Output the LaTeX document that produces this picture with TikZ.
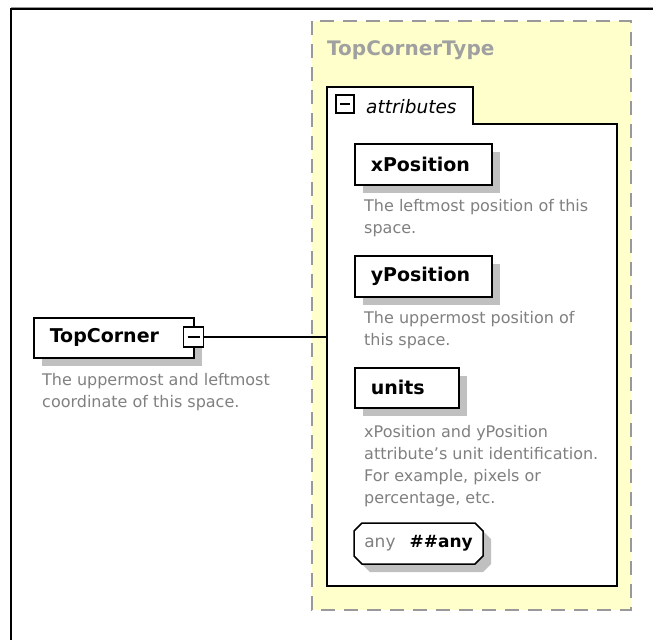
\documentclass[tikz,border=0pt]{standalone}
\usepackage{fontspec}
\setmainfont{DejaVu Sans}
\usetikzlibrary{positioning, shapes.misc, shadows}
\definecolor{SchemaYellow}{HTML}{FFFFCC}
\definecolor{DashGrey}    {HTML}{999999}
\definecolor{ShadowGrey}  {HTML}{C0C0C0}
\definecolor{NoteGrey}    {HTML}{808080}
\definecolor{TitleGrey}   {HTML}{A0A0A0}
\tikzset{
  box shadow/.style={general shadow={shadow xshift=8pt, shadow yshift=-8pt, fill=ShadowGrey}},
  collapse/.style={draw, line width=1.2pt, fill=white, minimum size=#1, inner sep=0pt,
                   path picture={\draw[line width=1.2pt]
                     ([xshift=4pt]path picture bounding box.west) --
                     ([xshift=-4pt]path picture bounding box.east);}},
}

\begin{document}
\begin{tikzpicture}[x=1pt, y=-1pt,
    elem/.style={draw=black, line width=1.5pt, fill=white, box shadow,
                 font=\fontsize{19}{22}\selectfont\bfseries, anchor=north west,
                 inner xsep=16pt, inner ysep=0pt, minimum height=41pt,
                 text width=#1, align=left},
    note/.style={font=\fontsize{16}{22}\selectfont, text=NoteGrey,
                 align=left, inner sep=0pt, anchor=north west}]
  \useasboundingbox (0,0) rectangle (653,640);
  % Frame
  \draw[DashGrey, line width=1pt] (11,7.5) -- (653,7.5);
  \draw[line width=2pt] (11,640) -- (11,9) -- (653,9);
  % Complex type
  \draw[DashGrey, fill=SchemaYellow, line width=1.5pt, dash pattern=on 14pt off 9pt]
    (312,21) rectangle (631,610);
  \node[anchor=base west, inner sep=0pt, text=TitleGrey,
        font=\fontsize{20}{23}\selectfont\bfseries] (typename) at (327,55) {TopCornerType};
  \draw[line width=1.5pt, fill=white]
    (327,586) -- (327,87) -- (473,87) -- (473,124) -- (617,124) -- (617,586) -- cycle;
  \coordinate (attrin) at (327,337);
  \node[collapse=18pt] (attrminus) at (345,104) {};
  \node[anchor=base west, inner sep=0pt, font=\fontsize{18.5}{21}\selectfont\itshape]
    (attrlabel) at (366,113) {attributes};
  % Attributes
  \node[elem=105pt] (xpos) at (354,143) {xPosition};
  \node[note] (xposnote) at (364,199) {The leftmost position of this\\space.};
  \node[elem=105pt] (ypos) at (354,255) {yPosition};
  \node[note] (yposnote) at (364,311) {The uppermost position of\\this space.};
  \node[elem=72pt, minimum height=40pt] (units) at (354,367) {units};
  \node[note] (unitsnote) at (364,425)
    {xPosition and yPosition\\attribute's unit identification.\\For example, pixels or\\percentage, etc.};
  \node[chamfered rectangle, chamfered rectangle xsep=4pt, chamfered rectangle ysep=4pt,
        draw, line width=1.5pt, fill=white, box shadow,
        minimum width=129pt, minimum height=41pt, inner sep=0pt,
        font=\fontsize{17}{20}\selectfont] (anyattr) at (418.5,543.5)
    {\textcolor{NoteGrey}{any}\hspace{14pt}\textbf{\#\#any}};
  % Element
  \node[elem=128pt, minimum height=40pt] (topcorner) at (33,317) {TopCorner};
  \node[collapse=20pt] (tcminus) at (193.5,337) {};
  \node[note] (tcnote) at (42,373) {The uppermost and leftmost\\coordinate of this space.};
  % Connector
  \draw[line width=1.2pt] (tcminus.east) -- (attrin);
\end{tikzpicture}
\end{document}
